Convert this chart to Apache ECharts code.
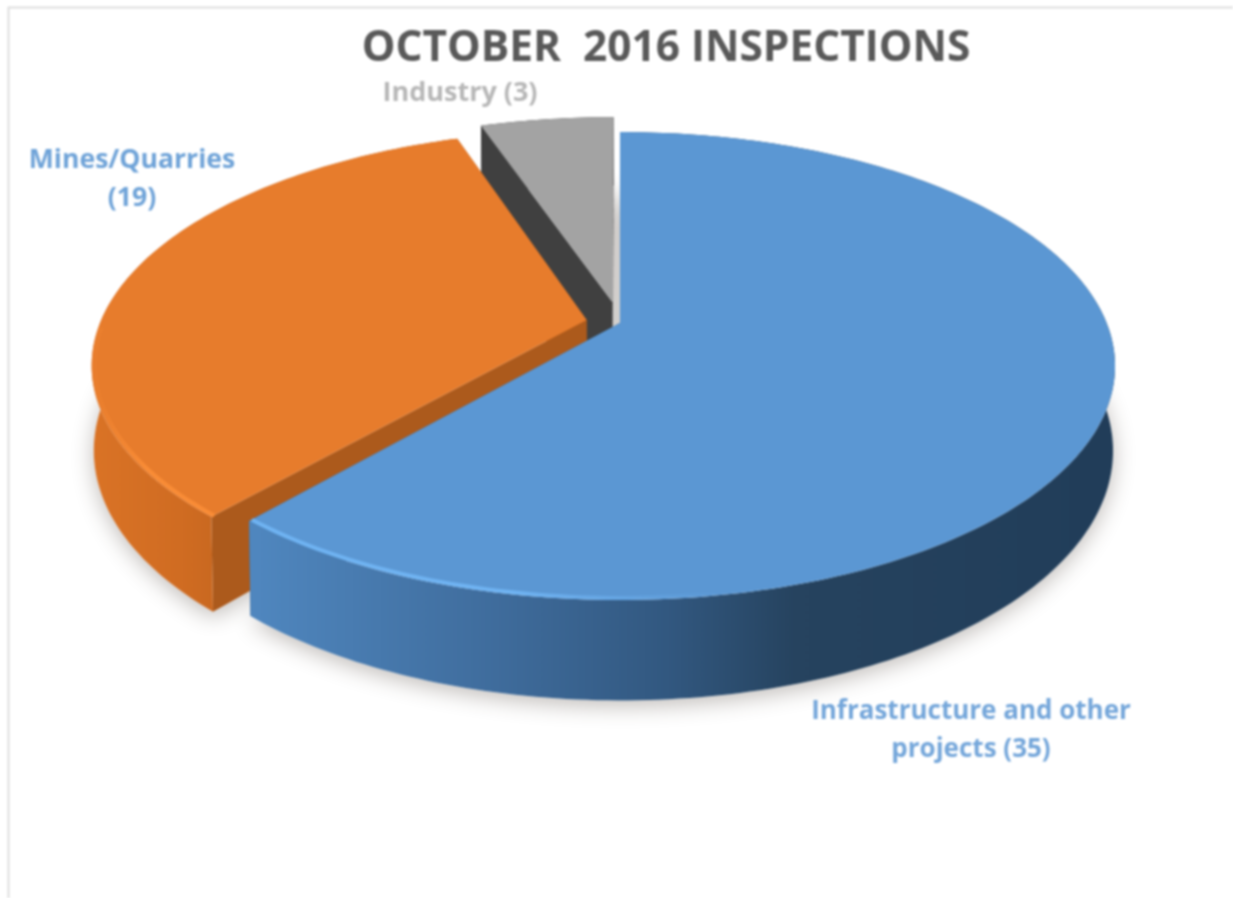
<!DOCTYPE html>
<html>
<head>
<meta charset="utf-8">
<title>October 2016 inspections</title>
<script src="https://cdn.jsdelivr.net/npm/echarts@6/dist/echarts.min.js"></script>
<style>
  html, body { margin: 0; padding: 0; background: #fff; }
  /* the source is a soft, upscaled screenshot */
  #main { width: 1233px; height: 898px; filter: blur(1px); }
</style>
</head>
<body>
<div id="main"></div>
<script>
var titleText = 'OCTOBER  2016 INSPECTIONS';
var categories = ['Infrastructure and other projects', 'Mines/Quarries', 'Industry'];
var values = [35, 19, 3];
var labelBreaks = [null, '\n', ' '];

// pie geometry: unit disc seen in perspective
var centerX = 620, centerY = 323;
var persp = -0.1838, vScale = 166.7, uScale = 486.6;
var depth = 82, bottomScale = 0.996;

var explode = [0, 0.07, 0.095];
var topColors = ['#5B97D3', '#E77C2C', '#A3A3A3'];
var cutColors = ['#2F5A85', '#AC5A1C', '#404040'];
var wallStops = [
  [[0, '#4F86BE'], [0.28, '#3F6C9C'], [0.48, '#325880'], [0.63, '#26435F'], [1, '#213D59']],
  [[0, '#DA7326'], [0.6, '#D06C22'], [1, '#C4651F']],
  [[0, '#404040'], [1, '#404040']]
];
var wallRange = [[258, 1110], [90, 240], [480, 620]];
var rims = [
  { from: 221, to: 165, color: '#6FB3F2', clear: 'rgba(111,179,242,0)', x0: 258, x1: 720 },
  { from: 221, to: 268, color: '#F98C36', clear: 'rgba(249,140,54,0)', x0: 215, x1: 90 }
];
var labelPos = [[971, 731], [132, 179], [460, 93]];
var labelColors = ['#74A6DA', '#6FA3D8', '#B7B7B7'];
var labelSizes = [26, 26.6, 27];

var total = values.reduce(function (a, b) { return a + b; }, 0);
var starts = [];
values.reduce(function (acc, v, i) { starts[i] = acc; return acc + v; }, 0);

function discPoint(u, v, lower) {
  var w = 1 + persp * v;
  var x = uScale * u / w;
  var y = (vScale * v + centerY) / w;
  if (lower) { x *= bottomScale; y += depth / w; }
  return [centerX + x, y];
}
function sliceOffset(i) {
  var mid = (starts[i] + values[i] / 2) / total * 2 * Math.PI;
  return [Math.sin(mid) * explode[i], -Math.cos(mid) * explode[i]];
}
function rimPoint(i, deg, lower, radius) {
  var off = sliceOffset(i), a = deg * Math.PI / 180, r = radius || 1;
  return discPoint(off[0] + r * Math.sin(a), off[1] - r * Math.cos(a), lower);
}
function apexPoint(i, lower) {
  var off = sliceOffset(i);
  return discPoint(off[0], off[1], lower);
}
function arc(i, from, to, lower, radius) {
  var pts = [], n = Math.max(2, Math.ceil(Math.abs(to - from)));
  for (var k = 0; k <= n; k++) pts.push(rimPoint(i, from + (to - from) * k / n, lower, radius));
  return pts;
}
function sliceAngles(i) {
  return [starts[i] / total * 360, (starts[i] + values[i]) / total * 360];
}
function hGrad(x0, x1, stops) {
  return new echarts.graphic.LinearGradient(x0, 0, x1, 0, stops.map(function (s) {
    return { offset: s[0], color: s[1] };
  }), true);
}

function renderShadow(params, api) {
  var i = api.value(0), ang = sliceAngles(i);
  var pts = [apexPoint(i, true)].concat(arc(i, ang[0], ang[1], true));
  return {
    type: 'polygon', shape: { points: pts },
    style: { fill: '#fff', shadowBlur: 22, shadowColor: 'rgba(60,50,40,0.33)', shadowOffsetY: 5 }
  };
}

function renderSlice(params, api) {
  var i = api.value(0), ang = sliceAngles(i);
  var kids = [];
  // the two cut faces
  [ang[1], ang[0]].forEach(function (deg) {
    kids.push({
      type: 'polygon',
      shape: { points: [apexPoint(i, false), rimPoint(i, deg, false), rimPoint(i, deg, true), apexPoint(i, true)] },
      style: { fill: cutColors[i] }
    });
  });
  // outer wall
  kids.push({
    type: 'polygon',
    shape: { points: arc(i, ang[0], ang[1], false).concat(arc(i, ang[1], ang[0], true)) },
    style: { fill: hGrad(wallRange[i][0], wallRange[i][1], wallStops[i]) }
  });
  // top surface
  kids.push({
    type: 'polygon',
    shape: { points: [apexPoint(i, false)].concat(arc(i, ang[0], ang[1], false)) },
    style: { fill: topColors[i] }
  });
  // bevel highlight along the front rim
  var rim = rims[i];
  if (rim) {
    kids.push({
      type: 'polyline',
      shape: { points: arc(i, rim.from, rim.to, false, 0.994) },
      style: {
        fill: null, lineWidth: 4,
        stroke: new echarts.graphic.LinearGradient(rim.x0, 0, rim.x1, 0, [
          { offset: 0, color: rim.color },
          { offset: 0.55, color: rim.color },
          { offset: 1, color: rim.clear }
        ], true)
      }
    });
  }
  return { type: 'group', children: kids };
}

function renderLabel(params, api) {
  var i = api.value(0);
  var name = categories[i];
  // long name wraps before its last word
  var text = labelBreaks[i] === null
    ? name.replace(/ (\S+)$/, '\n$1') + ' (' + values[i] + ')'
    : name + labelBreaks[i] + '(' + values[i] + ')';
  return {
    type: 'text',
    style: {
      x: labelPos[i][0], y: labelPos[i][1], text: text,
      align: 'center', verticalAlign: 'middle',
      fill: labelColors[i], font: 'bold ' + labelSizes[i] + 'px "Open Sans"', lineHeight: 38
    }
  };
}

var paintOrder = values.map(function (v, i) { return [i]; }).reverse();

var myChart = echarts.init(document.getElementById('main'));
myChart.setOption({
  animation: false,
  backgroundColor: '#fff',
  title: {
    text: titleText,
    left: 661, top: 23, textAlign: 'center',
    textStyle: { color: '#595959', fontSize: 42.4, fontWeight: 'bold', fontFamily: 'Open Sans' }
  },
  graphic: [{
    type: 'polyline',
    shape: { points: [[8.5, 898], [8.5, 7.5], [1233, 7.5]] },
    style: { fill: null, stroke: '#DEDEDE', lineWidth: 2 }
  }],
  series: [
    { type: 'custom', coordinateSystem: 'none', data: paintOrder, renderItem: renderShadow, silent: true },
    { type: 'custom', coordinateSystem: 'none', data: paintOrder, renderItem: renderSlice },
    { type: 'custom', coordinateSystem: 'none', data: paintOrder, renderItem: renderLabel, silent: true }
  ]
});
</script>
</body>
</html>
